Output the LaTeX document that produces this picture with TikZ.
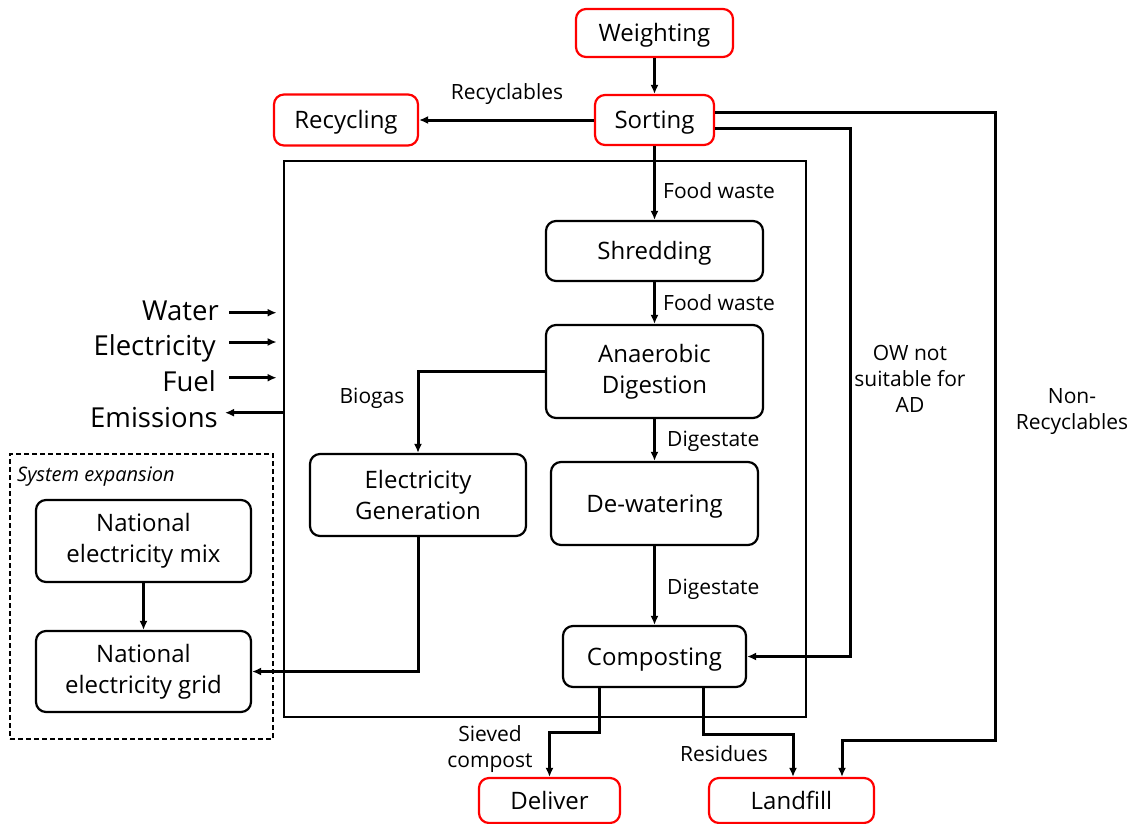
\documentclass[tikz,border=0pt]{standalone}
\usepackage{fontspec}
\setmainfont{Open Sans}
\usetikzlibrary{arrows.meta,calc}
\begin{document}
\begin{tikzpicture}[x=1pt,y=-1pt,
  box/.style={draw, line width=2.2pt, rounded corners=10pt, align=center,
    font=\fontsize{24}{31}\selectfont, inner sep=0pt},
  one/.style={text height=18pt, text depth=1pt},
  term/.style={box, draw=red, one},
  proc/.style={box, draw=black},
  conn/.style={line width=3pt, -{Latex[length=9pt,width=8pt]}},
  lbl/.style={font=\fontsize{21}{26}\selectfont, align=center, inner sep=0pt},
  side/.style={font=\fontsize{27.5}{30}\selectfont, inner sep=0pt, anchor=base east},
]
\useasboundingbox (0,0) rectangle (1137,823);

% system boundary and system expansion frame
\node[draw, line width=2.8pt, minimum width=522pt, minimum height=556pt, inner sep=0pt] (frame) at (545,439) {};
\node[draw, line width=1.8pt, dash pattern=on 5pt off 3pt, minimum width=263pt, minimum height=285pt, inner sep=0pt] (sysexp) at (141.5,596.5) {};
\node[lbl, anchor=west, font=\itshape\fontsize{20}{24}\selectfont] (lsys) at (17,477) {System expansion};

% terminal steps
\node[term, minimum width=157pt, minimum height=48pt] (weigh) at (654.5,33) {Weighting};
\node[term, minimum width=119pt, minimum height=50pt] (sort) at (654.5,120) {Sorting};
\node[term, minimum width=144pt, minimum height=51pt] (recyc) at (346,120) {Recycling};
\node[term, minimum width=141pt, minimum height=45pt] (deliv) at (549.5,800.5) {Deliver};
\node[term, minimum width=165pt, minimum height=45pt] (land) at (791.5,800.5) {Landfill};

% process steps
\node[proc, one, minimum width=217pt, minimum height=60pt] (shred) at (654.5,251) {Shredding};
\node[proc, minimum width=217pt, minimum height=93pt] (ad) at (654.5,371.5) {Anaerobic\\Digestion};
\node[proc, minimum width=216pt, minimum height=82pt] (egen) at (418,495) {Electricity\\Generation};
\node[proc, one, minimum width=207pt, minimum height=83pt] (dewat) at (654.5,503.5) {De-watering};
\node[proc, one, minimum width=183pt, minimum height=61pt] (comp) at (654.5,656.5) {Composting};
\node[proc, minimum width=215pt, minimum height=82pt] (mix) at (143.5,541) {National\\electricity mix};
\node[proc, minimum width=215pt, minimum height=81pt] (grid) at (143.5,671.5) {National\\electricity grid};

% main flow
\draw[conn] (weigh.south) -- (sort.north);
\draw[conn] (sort.west) -- (recyc.east);
\draw[conn] (sort.south) -- (shred.north);
\draw[conn] (shred.south) -- (ad.north);
\draw[conn] (ad.south) -- (dewat.north);
\draw[conn] (dewat.south) -- (comp.north);
\draw[conn] (ad.west) -| (egen.north);
\draw[conn] (egen.south) |- (grid.east);
\draw[conn] (mix.south) -- (grid.north);

% streams leaving sorting to the right
\coordinate (nr) at (995,740);
\coordinate (ow) at (850,0);
\draw[conn] ([yshift=8pt]sort.east) -| (nr) -| ([xshift=50.5pt]land.north);
\draw[conn] ([yshift=-8pt]sort.east) -| (ow |- comp.east) -- (comp.east);

% composting outputs
\draw[conn] ([xshift=-55.5pt]comp.south) -- ++(0,44) -| (deliv.north);
\draw[conn] ([xshift=48.5pt]comp.south) -- ++(0,46) -| ([xshift=1.5pt]land.north);

% inputs and emissions
\coordinate (win) at (229,312.7);
\coordinate (ein) at (229,342);
\coordinate (fin) at (229,377.7);
\coordinate (mout) at (225,412.7);
\draw[conn, shorten >=6pt] (win) -- (win -| frame.west);
\draw[conn, shorten >=6pt] (ein) -- (ein -| frame.west);
\draw[conn, shorten >=6pt] (fin) -- (fin -| frame.west);
\draw[conn] (mout -| frame.west) -- (mout);
\node[side] (twater) at (219,320) {Water};
\node[side] (telec) at (216,355) {Electricity};
\node[side] (tfuel) at (216,391) {Fuel};
\node[side] (temis) at (218,427) {Emissions};

% flow labels
\node[lbl] (lrec) at (507,94) {Recyclables};
\node[lbl, anchor=west] (lfw1) at (663,191) {Food waste};
\node[lbl, anchor=west] (lfw2) at (663,303) {Food waste};
\node[lbl, anchor=west] (ldg1) at (667,441) {Digestate};
\node[lbl, anchor=west] (ldg2) at (667,589) {Digestate};
\node[lbl] (lbio) at (372,398) {Biogas};
\node[lbl] (low) at (910,379) {OW not\\suitable for\\AD};
\node[lbl] (lnr) at (1072,412) {Non-\\Recyclables};
\node[lbl] (lsc) at (490,749) {Sieved\\compost};
\node[lbl] (lres) at (724,754) {Residues};
\end{tikzpicture}
\end{document}
